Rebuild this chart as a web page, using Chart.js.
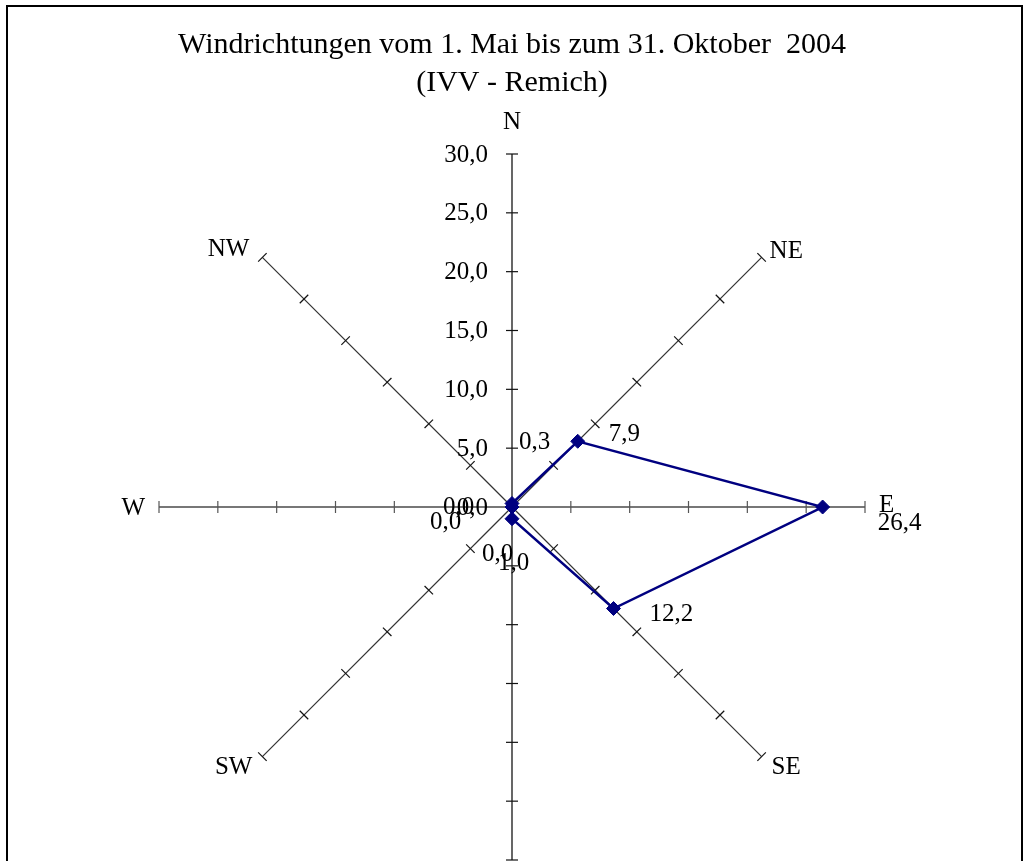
<!DOCTYPE html>
<html>
<head>
<meta charset="utf-8">
<title>Windrichtungen</title>
<script src="https://cdn.jsdelivr.net/npm/chart.js@4/dist/chart.umd.min.js"></script>
<style>
body { margin: 0; background: #fff; overflow: hidden; }
#wrap { position: relative; width: 1031px; height: 861px; }
#frame { position: absolute; left: 6px; top: 5px; width: 1013px; height: 900px; border: 2px solid #000; pointer-events: none; }
</style>
</head>
<body>
<div id="wrap">
<canvas id="chart" width="1031" height="861"></canvas>
<div id="frame"></div>
</div>
<script>
let directions = ["N", "NE", "E", "SE", "S", "SW", "W", "NW"];
let windValues = [0.3, 7.9, 26.4, 12.2, 1.0, 0.0, 0.0, 0.0];
let tickValues = [0, 5, 10, 15, 20, 25, 30];
let titleLines = ["Windrichtungen vom 1. Mai bis zum 31. Oktober  2004", "(IVV - Remich)"];

// where each text sits relative to its point (pixels)
let valueLabelOffsets = [[7, -61], [31, -7], [55, 16], [36, 6], [-14, 45], [-30, 47], [-82, 15], [-69, 0]];
let dirLabelOffsets = [[0, -32, "center"], [8, -6, "left"], [14, -2, "left"], [10, 11, "left"], [0, 30, "center"], [-10, 11, "right"], [-14, 1, "right"], [-13, -8, "right"]];

let serif = "'Liberation Serif', 'Times New Roman', serif";

function comma(v){
    return v.toFixed(1).replace(".", ",");
}

let radarExtras = {
    id: "radarExtras",
    beforeDatasetsDraw: function(chart){
        let scale = chart.scales.r;
        let ctx = chart.ctx;
        ctx.save();
        for (let i = 0; i < directions.length; i++){
            let angle = scale.getIndexAngle(i);
            for (let t of tickValues){
                if (t === 0) continue;
                let p = scale.getPointPositionForValue(i, t);
                let dx = Math.cos(angle) * 6;
                let dy = Math.sin(angle) * 6;
                ctx.beginPath();
                ctx.moveTo(p.x - dx, p.y - dy);
                ctx.lineTo(p.x + dx, p.y + dy);
                ctx.strokeStyle = i % 4 === 2 ? "#555" : "#111";
                ctx.lineWidth = 1.2;
                ctx.stroke();
            }
        }
        ctx.restore();
    },
    afterDatasetsDraw: function(chart){
        let scale = chart.scales.r;
        let ctx = chart.ctx;
        ctx.save();
        ctx.fillStyle = "#000";
        ctx.font = "25px " + serif;
        ctx.textBaseline = "middle";

        ctx.textAlign = "right";
        for (let t of tickValues){
            let p = scale.getPointPositionForValue(0, t);
            ctx.fillText(comma(t), p.x - 24, p.y + 1);
        }

        for (let i = 0; i < directions.length; i++){
            let end = scale.getPointPositionForValue(i, scale.max);
            let o = dirLabelOffsets[i];
            ctx.textAlign = o[2];
            ctx.fillText(directions[i], end.x + o[0], end.y + o[1]);
        }

        ctx.textAlign = "left";
        for (let i = 0; i < windValues.length; i++){
            let p = scale.getPointPositionForValue(i, windValues[i]);
            let o = valueLabelOffsets[i];
            ctx.fillText(comma(windValues[i]), p.x + o[0], p.y + o[1]);
        }
        ctx.restore();
    }
};

let chart = new Chart(document.getElementById("chart"), {
    type: "radar",
    data: {
        labels: directions,
        datasets: [
            {
                label: "Windrichtung",
                data: windValues,
                fill: false,
                borderColor: "#000080",
                borderWidth: 2.5,
                tension: 0,
                pointStyle: "rectRot",
                pointRadius: 7,
                pointBackgroundColor: "#000080",
                pointBorderColor: "#000080",
                pointBorderWidth: 1
            }
        ]
    },
    options: {
        responsive: false,
        animation: false,
        layout: {
            padding: { top: 0, left: 158, right: 165, bottom: 0 }
        },
        plugins: {
            legend: { display: false },
            tooltip: { enabled: false },
            title: {
                display: true,
                text: titleLines,
                color: "#000",
                font: { family: serif, size: 30, weight: "normal", lineHeight: 1.27 },
                padding: { top: 26, bottom: 51 }
            }
        },
        scales: {
            r: {
                min: 0,
                max: 30,
                ticks: { display: false, stepSize: 5 },
                grid: { display: false },
                pointLabels: { display: false },
                angleLines: {
                    display: true,
                    color: function(ctx){
                        if (ctx.index % 4 === 0) return "#000";
                        if (ctx.index % 4 === 2) return "#777";
                        return "#333";
                    },
                    lineWidth: function(ctx){
                        if (ctx.index % 4 === 2) return 2;
                        return 1.2;
                    }
                }
            }
        }
    },
    plugins: [radarExtras]
});
</script>
</body>
</html>
